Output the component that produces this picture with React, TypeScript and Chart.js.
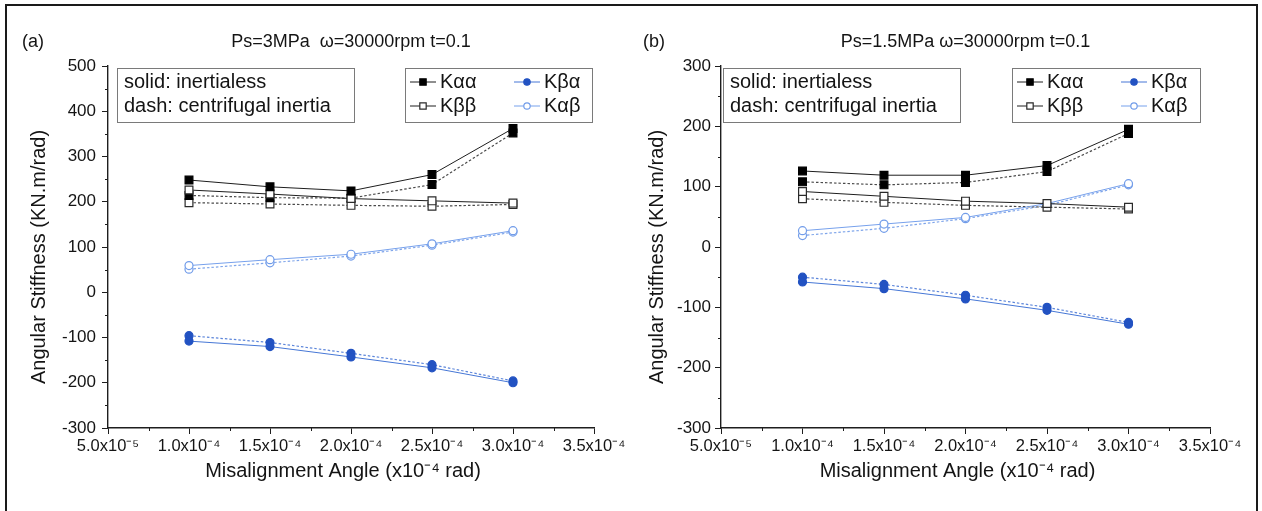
import React, { useEffect, useRef } from 'react';
import { Chart, registerables } from 'chart.js';

Chart.register(...registerables);

// ---------------- data ----------------
const misalignment = [1.0e-4, 1.5e-4, 2.0e-4, 2.5e-4, 3.0e-4];

const xTickLabels = ['5.0x10⁻⁵', '1.0x10⁻⁴', '1.5x10⁻⁴', '2.0x10⁻⁴', '2.5x10⁻⁴', '3.0x10⁻⁴', '3.5x10⁻⁴'];

// panel (a)  Ps=3MPa
const aKaaSolid = [248, 233, 224, 260, 362];
const aKaaDash = [214, 209, 208, 238, 352];
const aKbbSolid = [226, 217, 207, 202, 197];
const aKbbDash = [198, 195, 192, 190, 194];
const aKbaSolid = [-108, -120, -143, -167, -200];
const aKbaDash = [-96, -111, -135, -160, -196];
const aKabSolid = [59, 72, 84, 107, 136];
const aKabDash = [51, 65, 80, 104, 133];

// panel (b)  Ps=1.5MPa
const bKaaSolid = [126, 119, 119, 135, 195];
const bKaaDash = [108, 103, 107, 125, 188];
const bKbbSolid = [92, 84, 76, 72, 66];
const bKbbDash = [80, 74, 69, 66, 63];
const bKbaSolid = [-58, -69, -86, -105, -128];
const bKbaDash = [-50, -62, -80, -100, -125];
const bKabSolid = [27, 38, 49, 72, 105];
const bKabDash = [19, 31, 47, 69, 103];

const seriesNames = ['Kαα', 'Kββ', 'Kβα', 'Kαβ'];

const FONT = '"Liberation Sans", Arial, sans-serif';

type Style = { shape: 'rect' | 'circle'; fill: string; stroke: string; line: string; dashLine: string; r: number };
const styles: Style[] = [
  { shape: 'rect', fill: '#000000', stroke: '#000000', line: '#1e1e1e', dashLine: '#4a4a4a', r: 5.5 },
  { shape: 'rect', fill: '#ffffff', stroke: '#2a2a2a', line: '#1e1e1e', dashLine: '#4a4a4a', r: 5.5 },
  { shape: 'circle', fill: '#2252c2', stroke: '#2252c2', line: '#4677d6', dashLine: '#5d86da', r: 4 },
  { shape: 'circle', fill: '#ffffff', stroke: '#719ce9', line: '#77a1ec', dashLine: '#7fa5ea', r: 4 },
];

function buildDatasets(solid: number[][], dash: number[][]) {
  const ds: any[] = [];
  solid.forEach((vals, i) => {
    const s = styles[i];
    ds.push({
      label: seriesNames[i] + ' solid',
      data: misalignment.map((x, k) => ({ x, y: vals[k] })),
      borderColor: s.line,
      borderWidth: 1,
      pointStyle: s.shape,
      pointRadius: s.r,
      pointBackgroundColor: s.fill,
      pointBorderColor: s.stroke,
      pointBorderWidth: 1.2,
      tension: 0,
    });
  });
  dash.forEach((vals, i) => {
    const s = styles[i];
    ds.push({
      label: seriesNames[i] + ' dash',
      data: misalignment.map((x, k) => ({ x, y: vals[k] })),
      borderColor: s.dashLine,
      borderWidth: 1.2,
      borderDash: [2.5, 2],
      pointStyle: s.shape,
      pointRadius: s.r,
      pointBackgroundColor: s.fill,
      pointBorderColor: s.stroke,
      pointBorderWidth: 1.2,
      tension: 0,
    });
  });
  return ds;
}

type PanelCfg = {
  tag: string;
  title: string;
  yMin: number;
  yMax: number;
  padLeft: number; // chart area left in canvas
  padRight: number;
  yTitleX: number;
  yTickPad: number;
  tagX: number;
  noteBox: [number, number, number, number];
  legendBox: [number, number, number, number];
  solid: number[][];
  dash: number[][];
};

function drawMarker(ctx: CanvasRenderingContext2D, s: Style, x: number, y: number) {
  ctx.beginPath();
  if (s.shape === 'rect') {
    const h = s.r * Math.SQRT1_2;
    ctx.rect(x - h, y - h, 2 * h, 2 * h);
  } else {
    ctx.arc(x, y, s.r, 0, Math.PI * 2);
  }
  ctx.fillStyle = s.fill;
  ctx.fill();
  ctx.lineWidth = 1.2;
  ctx.strokeStyle = s.stroke;
  ctx.stroke();
}

function makeDecor(cfg: PanelCfg) {
  return {
    id: 'decor' + cfg.tag,
    afterDraw(chart: any) {
      const ctx: CanvasRenderingContext2D = chart.ctx;
      const { left, right, bottom } = chart.chartArea;
      const xs = chart.scales.x;
      const ys = chart.scales.y;
      ctx.save();
      // minor ticks
      ctx.strokeStyle = '#1e1e1e';
      ctx.lineWidth = 1;
      for (let v = cfg.yMin + 50; v < cfg.yMax; v += 100) {
        const p = Math.round(ys.getPixelForValue(v)) + 0.5;
        ctx.beginPath();
        ctx.moveTo(left - 3, p);
        ctx.lineTo(left, p);
        ctx.stroke();
      }
      for (let k = 0; k < 6; k++) {
        const v = 7.5e-5 + k * 5e-5;
        const p = Math.round(xs.getPixelForValue(v)) + 0.5;
        ctx.beginPath();
        ctx.moveTo(p, bottom);
        ctx.lineTo(p, bottom + 3);
        ctx.stroke();
      }
      // tag and title
      ctx.fillStyle = '#141414';
      ctx.font = '18px ' + FONT;
      ctx.textBaseline = 'middle';
      ctx.textAlign = 'left';
      ctx.fillText(cfg.tag, cfg.tagX, 42);
      ctx.textAlign = 'center';
      ctx.fillText(cfg.title, (left + right) / 2, 42);

      // axis titles
      ctx.font = '20px ' + FONT;
      ctx.fillText('Misalignment Angle (x10⁻⁴ rad)', (left + right) / 2 - 8, 471);
      ctx.save();
      ctx.translate(cfg.yTitleX, 257);
      ctx.rotate(-Math.PI / 2);
      ctx.fillText('Angular Stiffness (KN.m/rad)', 0, 0);
      ctx.restore();

      // note box
      const [nx, ny, nw, nh] = cfg.noteBox;
      ctx.strokeStyle = '#7a7a7a';
      ctx.lineWidth = 1;
      ctx.strokeRect(nx + 0.5, ny + 0.5, nw, nh);
      ctx.textAlign = 'left';
      ctx.fillStyle = '#141414';
      ctx.font = '20px ' + FONT;
      ctx.fillText('solid: inertialess', nx + 7, ny + 14);
      ctx.fillText('dash: centrifugal inertia', nx + 7, ny + 38);

      // legend box
      const [lx, ly, lw, lh] = cfg.legendBox;
      ctx.strokeRect(lx + 0.5, ly + 0.5, lw, lh);
      const order = [0, 2, 1, 3];
      order.forEach((si, idx) => {
        const col = idx % 2;
        const row = Math.floor(idx / 2);
        const x0 = lx + 5 + col * 104;
        const yy = ly + 14 + row * 24;
        const s = styles[si];
        ctx.strokeStyle = s.line;
        ctx.lineWidth = 1;
        ctx.beginPath();
        ctx.moveTo(x0, yy);
        ctx.lineTo(x0 + 26, yy);
        ctx.stroke();
        drawMarker(ctx, { ...s, r: s.shape === 'rect' ? 4.5 : 3.2 }, x0 + 13, yy);
        ctx.fillStyle = '#141414';
        ctx.font = '20px ' + FONT;
        ctx.textAlign = 'left';
        ctx.fillText(seriesNames[si], x0 + 30, yy);
      });
      ctx.restore();
    },
  };
}

function Panel({ cfg, left }: { cfg: PanelCfg; left: number }) {
  const ref = useRef<HTMLCanvasElement | null>(null);
  useEffect(() => {
    if (!ref.current) return;
    const W = 631;
    const H = 511;
    const chart = new Chart(ref.current, {
      type: 'line',
      data: { datasets: buildDatasets(cfg.solid, cfg.dash) },
      options: {
        responsive: false,
        maintainAspectRatio: false,
        animation: false,
        layout: { padding: { left: 0, right: W - cfg.padRight, top: 66, bottom: 0 } },
        plugins: { legend: { display: false }, title: { display: false }, tooltip: { enabled: false } },
        scales: {
          x: {
            type: 'linear',
            min: 5e-5,
            max: 3.5e-4,
            border: { display: true, color: '#1e1e1e', width: 1.4 },
            grid: { display: true, drawOnChartArea: false, drawTicks: true, tickLength: 6, color: '#1e1e1e', tickColor: '#1e1e1e' },
            ticks: {
              stepSize: 5e-5,
              padding: 3,
              color: '#141414',
              font: { family: FONT, size: 16.5 },
              maxRotation: 0,
              autoSkip: false,
              callback: (_v: any, i: number) => xTickLabels[i],
            },
            afterFit: (s: any) => {
              s.height = H - 428;
              s.paddingLeft = 0;
              s.paddingRight = 0;
            },
          } as any,
          y: {
            type: 'linear',
            min: cfg.yMin,
            max: cfg.yMax,
            border: { display: true, color: '#1e1e1e', width: 1.4 },
            grid: { display: true, drawOnChartArea: false, drawTicks: true, tickLength: 6, color: '#1e1e1e', tickColor: '#1e1e1e' },
            ticks: {
              stepSize: 100,
              padding: cfg.yTickPad,
              color: '#141414',
              font: { family: FONT, size: 17 },
            },
            afterFit: (s: any) => {
              s.width = cfg.padLeft;
              s.paddingTop = 0;
              s.paddingBottom = 0;
            },
          } as any,
        },
      },
      plugins: [makeDecor(cfg)],
    } as any);
    return () => chart.destroy();
  }, [cfg]);
  return (
    <canvas
      ref={ref}
      width={631}
      height={511}
      style={{ position: 'absolute', left, top: 0, width: 631, height: 511 }}
    />
  );
}

const panelA: PanelCfg = {
  tag: '(a)',
  title: 'Ps=3MPa  ω=30000rpm t=0.1',
  yMin: -300,
  yMax: 500,
  padLeft: 108,
  padRight: 594,
  yTitleX: 39,
  yTickPad: 6,
  tagX: 22,
  noteBox: [117, 68, 237, 54],
  legendBox: [405, 68, 187, 54],
  solid: [aKaaSolid, aKbbSolid, aKbaSolid, aKabSolid],
  dash: [aKaaDash, aKbbDash, aKbaDash, aKabDash],
};

const panelB: PanelCfg = {
  tag: '(b)',
  title: 'Ps=1.5MPa ω=30000rpm t=0.1',
  yMin: -300,
  yMax: 300,
  padLeft: 90,
  padRight: 579,
  yTitleX: 26,
  yTickPad: 4,
  tagX: 12,
  noteBox: [92, 68, 237, 54],
  legendBox: [381, 68, 188, 54],
  solid: [bKaaSolid, bKbbSolid, bKbaSolid, bKabSolid],
  dash: [bKaaDash, bKbbDash, bKbaDash, bKabDash],
};

export default function App() {
  return (
    <div style={{ position: 'fixed', left: 0, top: 0, width: 1262, height: 511, overflow: 'hidden', background: '#ffffff' }}>
      <Panel cfg={panelA} left={0} />
      <Panel cfg={panelB} left={631} />
      <div
        style={{
          position: 'absolute',
          left: 5,
          top: 4,
          width: 1249,
          height: 520,
          borderLeft: '2px solid #1a1a1a',
          borderTop: '2px solid #1a1a1a',
          borderRight: '2px solid #1a1a1a',
          pointerEvents: 'none',
        }}
      />
    </div>
  );
}
